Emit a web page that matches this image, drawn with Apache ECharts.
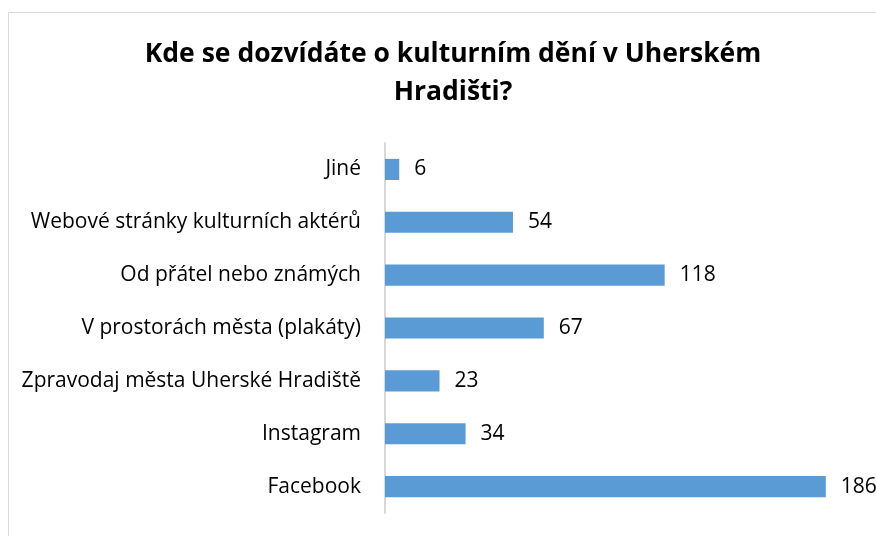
<!DOCTYPE html>
<html><head><meta charset="utf-8">
<script src="https://cdn.jsdelivr.net/npm/echarts@6/dist/echarts.min.js"></script>
<style>html,body{margin:0;padding:0;background:#fff}#c{width:876px;height:536px}</style>
</head><body><div id="c"></div>
<script>
const categories = ["Facebook","Instagram","Zpravodaj města Uherské Hradiště","V prostorách města (plakáty)","Od přátel nebo známých","Webové stránky kulturních aktérů","Jiné"];
const values = [186,34,23,67,118,54,6];
const titleText = "Kde se dozvídáte o kulturním dění v Uherském\nHradišti?";
const font = "'Open Sans', 'Noto Sans', sans-serif";
const chart = echarts.init(document.getElementById('c'), null, {renderer:'canvas'});
chart.setOption({
  animation:false,
  backgroundColor:'#fff',
  graphic:[{type:'rect',shape:{x:8.5,y:12.5,width:900,height:600},style:{fill:'none',stroke:'#d9d9d9',lineWidth:1},z:-1}],
  title:{text:titleText,left:448,top:30,textAlign:'center',
    textStyle:{fontFamily:font,fontWeight:'bold',fontSize:26.5,color:'#000',lineHeight:38}},
  grid:{left:385,right:17,top:143,bottom:23,containLabel:false},
  xAxis:{type:'value',min:0,max:200,show:false},
  yAxis:{type:'category',data:categories,
    axisLine:{show:true,lineStyle:{color:'#d9d9d9',width:2}},
    axisTick:{show:false},
    axisLabel:{color:'#000',fontFamily:font,fontSize:21,margin:24}},
  series:[{type:'bar',data:values,barCategoryGap:'60%',
    itemStyle:{color:'#5b9bd5'},
    label:{show:true,position:'right',distance:15,color:'#000',fontFamily:font,fontSize:21}}]
});
</script></body></html>
